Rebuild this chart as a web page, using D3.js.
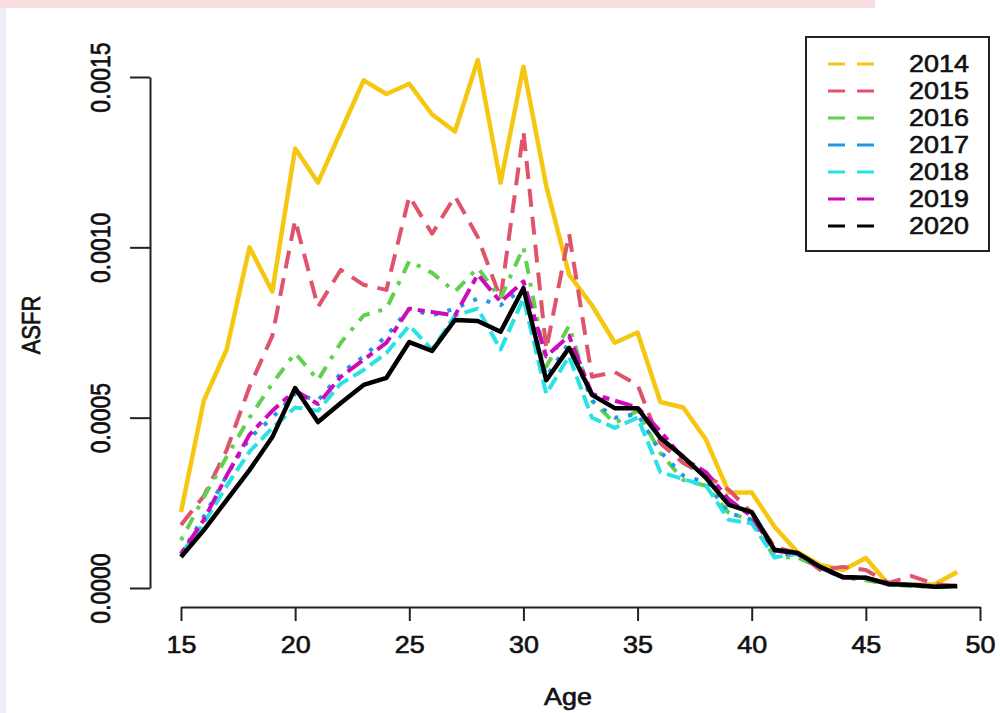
<!DOCTYPE html>
<html>
<head>
<meta http-equiv="Content-Type" content="text/html;charset=utf-8">
<script type="text/javascript" src="https://d3js.org/d3.v7.min.js"></script>
<style>
  body { margin: 0; background: #fff; }
  text { font-family: "Liberation Sans", Arial, sans-serif; fill: #111; stroke: #111; stroke-width: 0.6px; }
</style>
</head>
<body>
<div id="chart"></div>
<script type="text/javascript">

// ages on the x axis
var ages = [15,16,17,18,19,20,21,22,23,24,25,26,27,28,29,30,31,32,33,34,35,36,37,38,39,40,41,42,43,44,45,46,47,48,49];

// ASFR by year
var asfr2014 = [0.000223,0.00055,0.00070,0.00100,0.00087,0.00129,0.00119,0.00134,0.00149,0.00145,0.00148,0.00139,0.00134,0.00155,0.00119,0.00153,0.00118,0.00092,0.00083,0.00072,0.00075,0.000546,0.00053,0.000435,0.00028,0.00028,0.00018,0.000106,0.000068,0.000053,0.000088,0.00001,0.00001,0.00001,0.000047];
var asfr2015 = [0.000185,0.00027,0.000405,0.00059,0.00074,0.00108,0.000825,0.000934,0.00089,0.000875,0.00115,0.00104,0.00115,0.00103,0.00085,0.00134,0.00070,0.00104,0.00062,0.000634,0.000596,0.000425,0.000367,0.00033,0.000288,0.00022,0.00012,0.000103,0.000053,0.000062,0.000053,0.000015,0.000035,0.000012,0.000006];
var asfr2016 = [0.00014,0.000267,0.000385,0.0005,0.0006,0.00069,0.00061,0.00072,0.0008,0.00082,0.00096,0.000925,0.00087,0.00094,0.00085,0.001,0.00065,0.00077,0.00055,0.000484,0.00052,0.000396,0.000317,0.0003,0.00022,0.0002,0.00009,0.00009,0.000059,0.00003,0.000023,0.00001,0.000006,0.000003,0.000003];
var asfr2017 = [0.0001,0.00021,0.00033,0.00044,0.0005,0.00057,0.00055,0.00063,0.00068,0.00074,0.00082,0.0008,0.00082,0.00085,0.00083,0.00088,0.00062,0.00072,0.00055,0.0005,0.00051,0.0004,0.00033,0.00031,0.00022,0.0002,0.0001,0.0001,0.00006,0.00003,0.00003,0.00001,0.00001,0.000005,0.000005];
var asfr2018 = [0.0001,0.00019,0.0003,0.0004,0.00047,0.00053,0.00052,0.0006,0.00064,0.00069,0.00077,0.0007,0.0008,0.00082,0.0007,0.00085,0.00057,0.00068,0.0005,0.00047,0.0005,0.00034,0.00032,0.0003,0.0002,0.00019,0.00009,0.0001,0.00006,0.00003,0.00003,0.00001,0.00001,0.000005,0.000005];
var asfr2019 = [0.0001,0.0002,0.00033,0.00045,0.00052,0.00058,0.00054,0.00062,0.00067,0.00072,0.00082,0.00081,0.0008,0.00092,0.00084,0.0009,0.00068,0.00074,0.00057,0.00055,0.00053,0.00046,0.00038,0.00034,0.00026,0.00021,0.00011,0.0001,0.00006,0.00003,0.00003,0.00001,0.00001,0.000005,0.000005];
var asfr2020 = [0.000091,0.00017,0.000258,0.000346,0.000443,0.000587,0.000487,0.000543,0.000596,0.000617,0.000722,0.000696,0.000787,0.000784,0.000752,0.00088,0.00061,0.000705,0.000567,0.000528,0.000528,0.00044,0.000385,0.000323,0.000244,0.000223,0.000112,0.000103,0.000062,0.000032,0.00003,0.000012,0.000009,0.000004,0.000006];

var years = ["2014","2015","2016","2017","2018","2019","2020"];
var xTicks = [15,20,25,30,35,40,45,50];
var yTicks = [0,0.0005,0.0010,0.0015];

var series = [asfr2014, asfr2015, asfr2016, asfr2017, asfr2018, asfr2019, asfr2020];
var colors = ["#F5C710","#DF536B","#61D04F","#2297E6","#28E2E5","#CD0BBC","#000000"];
var dashes = [null, "18,10", "4,9,13,9", "4,10", "14,6", "7,6,18,6", null];

var width = 1000, height = 713;
var stretch = 1.17; // the picture is a little wider than tall

var svg = d3.select("#chart").append("svg")
    .attr("width", width)
    .attr("height", height);

// faint page bits around the figure
svg.append("rect").attr("x",0).attr("y",0).attr("width",875).attr("height",8).attr("fill","#f8dde0");
svg.append("rect").attr("x",0).attr("y",8).attr("width",6).attr("height",705).attr("fill","#eef0f6");

var x = d3.scaleLinear().domain([15,50]).range([181,980]);
var y = d3.scaleLinear().domain([0,0.0015]).range([588,77]);

function widen(sel, k) {
  sel.each(function() {
    var w = this.getComputedTextLength();
    d3.select(this).attr("textLength", w * k).attr("lengthAdjust","spacingAndGlyphs");
  });
}

// x axis
var gx = svg.append("g")
    .attr("transform","translate(0,607)")
    .call(d3.axisBottom(x).tickValues(xTicks).tickSize(14).tickSizeOuter(0).tickPadding(16));
gx.selectAll("path, line").attr("stroke","#222").attr("stroke-width",2);
gx.selectAll("text").style("font-size","23px").attr("fill","#111").attr("dy","0.71em");
widen(gx.selectAll("text"), stretch);

// y axis
var gy = svg.append("g")
    .attr("transform","translate(150,0)")
    .call(d3.axisLeft(y).tickValues(yTicks).tickSize(20).tickSizeOuter(0).tickFormat(d3.format(".4f")));
gy.selectAll("path, line").attr("stroke","#222").attr("stroke-width",2);
gy.selectAll("text")
    .style("font-size","23px")
    .attr("fill","#111")
    .attr("text-anchor","middle")
    .attr("transform","scale(" + stretch + ",1) rotate(-90)")
    .attr("x",0)
    .attr("y",-40 / stretch)
    .attr("dy",0);

// axis titles
var ageLabel = svg.append("text")
    .attr("x",568).attr("y",705)
    .attr("text-anchor","middle")
    .style("font-size","23px")
    .text("Age");
widen(ageLabel, stretch);

svg.append("text")
    .attr("transform","translate(40,325) scale(" + stretch + ",1) rotate(-90)")
    .attr("text-anchor","middle")
    .style("font-size","22px")
    .text("ASFR");

// the lines
var line = d3.line()
    .x(function(d,i) { return x(ages[i]); })
    .y(function(d) { return y(d); });

svg.append("g")
    .selectAll(".asfr")
    .data(series)
    .enter().append("path")
    .attr("class","asfr")
    .attr("d", line)
    .attr("fill","none")
    .attr("stroke", function(d,i) { return colors[i]; })
    .attr("stroke-width", function(d,i) { return (i == 0 || i == 6) ? 4.5 : 4; })
    .attr("stroke-dasharray", function(d,i) { return dashes[i]; })
    .attr("stroke-linejoin","round");

// legend
var lg = svg.append("g");
lg.append("rect")
    .attr("x",806).attr("y",37)
    .attr("width",183).attr("height",214)
    .attr("fill","#fff")
    .attr("stroke","#222")
    .attr("stroke-width",2);

var rows = lg.selectAll(".row")
    .data(years)
    .enter().append("g")
    .attr("class","row")
    .attr("transform", function(d,i) { return "translate(0," + (64 + i * 27) + ")"; });

rows.append("line")
    .attr("x1",828).attr("x2",874)
    .attr("y1",0).attr("y2",0)
    .attr("stroke", function(d,i) { return colors[i]; })
    .attr("stroke-width",3)
    .attr("stroke-dasharray","17,12");

var lt = rows.append("text")
    .attr("x",909).attr("y",8)
    .style("font-size","23px")
    .text(function(d) { return d; });
widen(lt, stretch);

</script>
</body>
</html>
